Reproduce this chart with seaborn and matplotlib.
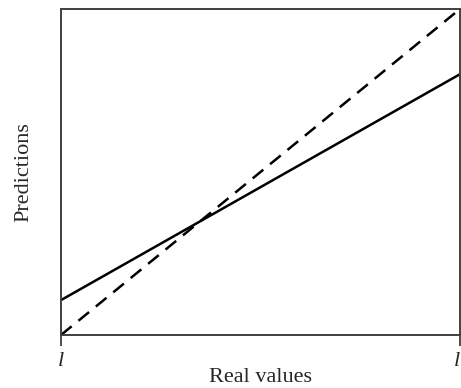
import matplotlib
matplotlib.use("Agg")
import matplotlib.pyplot as plt
import seaborn as sns
import pandas as pd

# Endpoints of the two lines over the normalized range
real = [0.0, 1.0]
ideal = [0.0, 1.0]
fitted = [0.107, 0.80]
tick_labels = ["l", "l"]

sns.set_style("white")
plt.rcParams["font.family"] = ["Liberation Serif", "DejaVu Serif"]

fig = plt.figure(figsize=(4.61, 3.88), dpi=100)
ax = fig.add_axes([0.1323, 0.1366, 0.8655, 0.8402])

df_fit = pd.DataFrame({"real": real, "pred": fitted})
df_ideal = pd.DataFrame({"real": real, "pred": ideal})

sns.lineplot(data=df_fit, x="real", y="pred", ax=ax, color="black", linewidth=1.8)
sns.lineplot(data=df_ideal, x="real", y="pred", ax=ax, color="black", linewidth=1.8,
             linestyle=(0, (5.5, 3.5)))

ax.set_xlim(0, 1)
ax.set_ylim(0, 1)
ax.set_xticks([0, 1])
ax.set_xticklabels(tick_labels, fontstyle="italic", fontsize=16)
ax.get_xticklabels()[-1].set_horizontalalignment("right")
ax.set_yticks([])
ax.tick_params(axis="x", direction="out", length=8, width=1.3, color="#404040", pad=4,
               bottom=True)
for s in ax.spines.values():
    s.set_color("#404040")
    s.set_linewidth(1.4)

ax.set_xlabel("Real values", fontsize=16, labelpad=-2)
ax.set_ylabel("Predictions", fontsize=16, labelpad=20)

fig.savefig("out.png", dpi=100)
